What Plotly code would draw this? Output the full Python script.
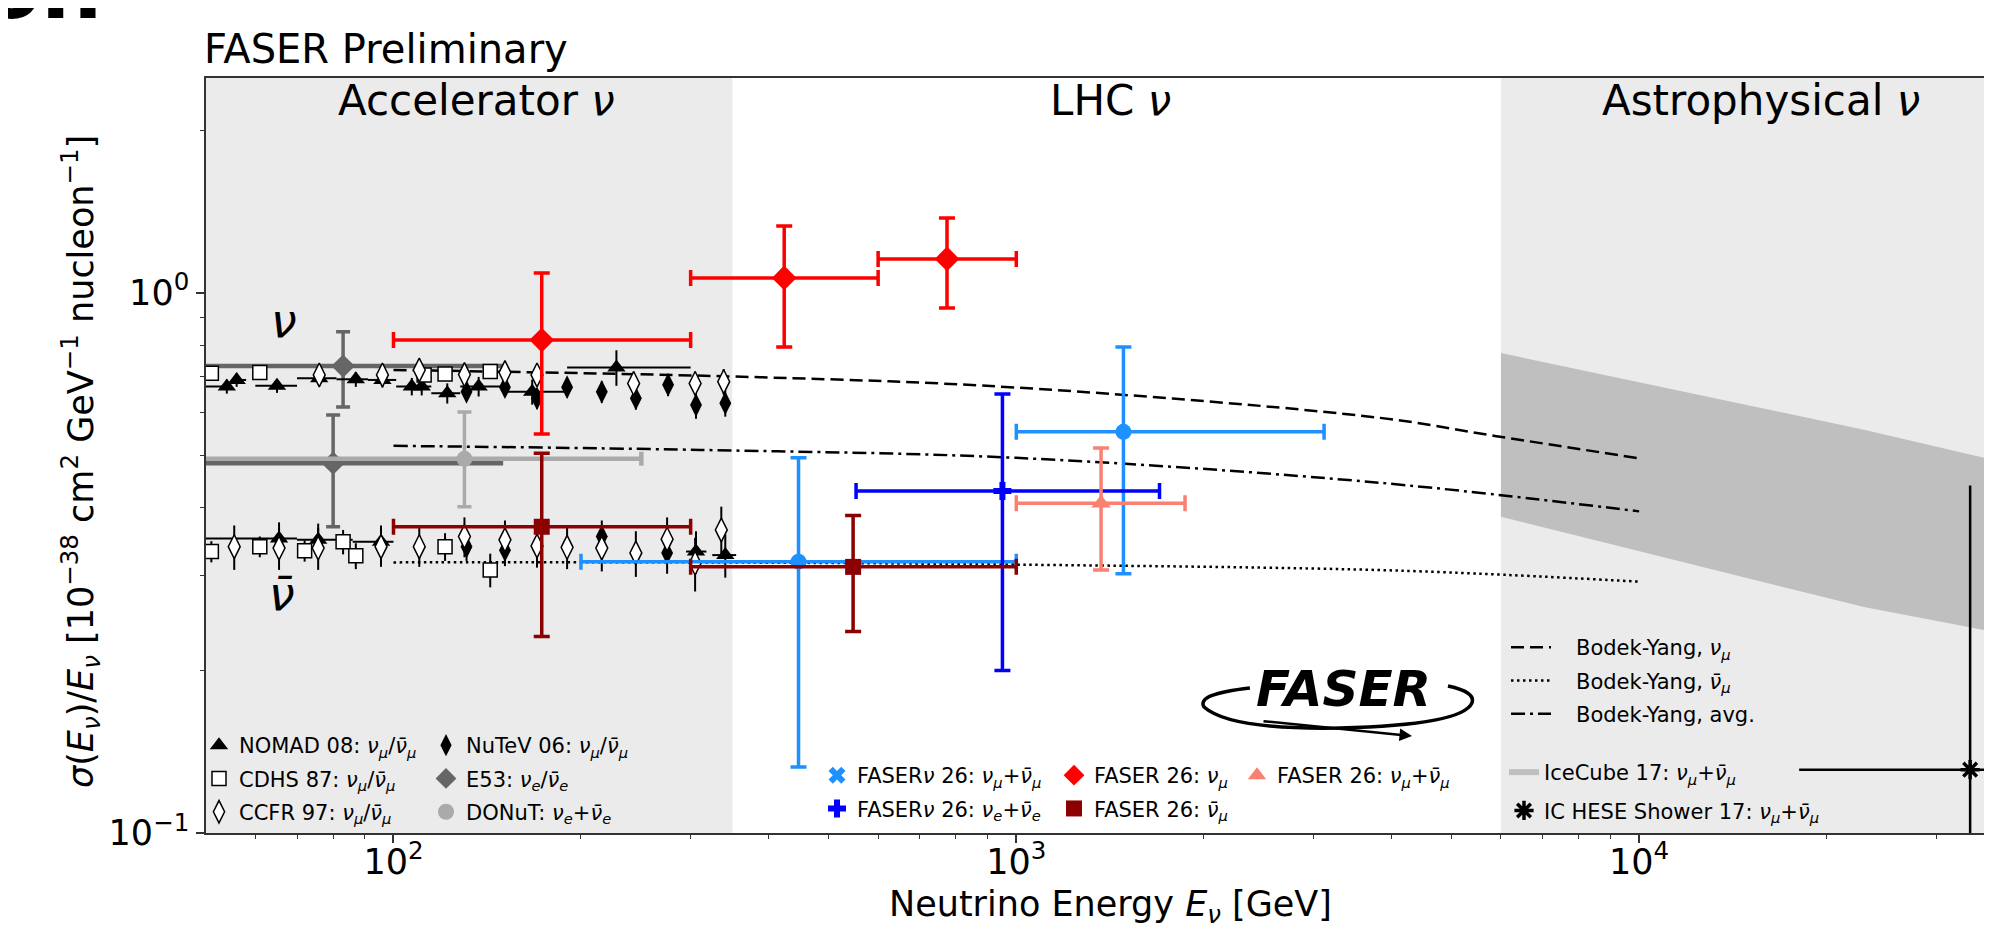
import numpy as np
import plotly.graph_objects as go

# ---------------- data ----------------
# FASER 26: nu_mu (red diamonds)
fa_numu_E = [173, 424, 774]
fa_numu_Elo = [100, 300, 600]
fa_numu_Ehi = [300, 600, 1000]
fa_numu_sig = [0.818, 1.066, 1.156]
fa_numu_hi = [1.089, 1.33, 1.377]
fa_numu_lo = [0.548, 0.794, 0.938]
# FASER 26: nubar_mu (dark red squares)
fa_nubar_E = [173, 547]
fa_nubar_Elo = [100, 300]
fa_nubar_Ehi = [300, 1000]
fa_nubar_sig = [0.369, 0.311]
fa_nubar_hi = [0.505, 0.387]
fa_nubar_lo = [0.231, 0.236]
# FASER 26: nu_mu + nubar_mu (salmon triangle)
fa_sum_E = [1368]
fa_sum_Elo = [1000]
fa_sum_Ehi = [1866]
fa_sum_sig = [0.408]
fa_sum_hi = [0.516]
fa_sum_lo = [0.307]
# FASERnu 26: nu_mu + nubar_mu (light blue)
fnu_mu_E = [447, 1486]
fnu_mu_Elo = [200, 1000]
fnu_mu_Ehi = [1000, 3120]
fnu_mu_sig = [0.318, 0.553]
fnu_mu_hi = [0.495, 0.794]
fnu_mu_lo = [0.1325, 0.302]
# FASERnu 26: nu_e + nubar_e (blue)
fnu_e_E = [950]
fnu_e_Elo = [553]
fnu_e_Ehi = [1698]
fnu_e_sig = [0.43]
fnu_e_hi = [0.65]
fnu_e_lo = [0.20]

# Accelerator data
nomad_nu_E = [54, 56, 65, 76, 87, 96, 107, 111, 122, 137, 167, 228]
nomad_nu_Elo = [50, 55, 60, 70, 81, 91, 101, 109, 115, 128, 150, 190]
nomad_nu_Ehi = [55, 58, 70, 81, 91, 101, 109, 115, 128, 150, 190, 300]
nomad_nu_sig = [0.671, 0.690, 0.673, 0.695, 0.692, 0.690, 0.671, 0.671, 0.652, 0.671, 0.656, 0.728]
nomad_nu_err = [0.020, 0.020, 0.020, 0.022, 0.022, 0.022, 0.025, 0.025, 0.028, 0.028, 0.035, 0.055]
nomad_nub_E = [65.5, 75.7, 95.5, 306, 341]
nomad_nub_Elo = [50, 70, 86, 295, 325]
nomad_nub_Ehi = [70, 86, 100, 318, 355]
nomad_nub_sig = [0.351, 0.349, 0.346, 0.332, 0.327]
nomad_nub_err = [0.025, 0.025, 0.025, 0.03, 0.03]

cdhs_nu_E = [51, 61, 112, 121, 143]
cdhs_nu_sig = [0.710, 0.712, 0.705, 0.708, 0.715]
cdhs_nu_err = [0.018, 0.018, 0.020, 0.020, 0.022]
cdhs_nub_E = [51, 61, 72, 83, 87, 121, 143]
cdhs_nub_sig = [0.332, 0.339, 0.333, 0.346, 0.326, 0.339, 0.307]
cdhs_nub_err = [0.015, 0.015, 0.015, 0.018, 0.018, 0.020, 0.022]

ccfr_nu_E = [76, 96, 110, 130, 151, 170, 243, 305, 339]
ccfr_nu_sig = [0.705, 0.705, 0.720, 0.706, 0.712, 0.705, 0.680, 0.680, 0.685]
ccfr_nu_err = [0.030, 0.030, 0.030, 0.030, 0.030, 0.032, 0.035, 0.035, 0.038]
ccfr_nub_E = [55.5, 65.5, 75.7, 95.5, 110, 130, 151, 170, 190, 216, 245, 275, 305, 336]
ccfr_nub_sig = [0.339, 0.337, 0.337, 0.339, 0.339, 0.354, 0.349, 0.340, 0.338, 0.337, 0.330, 0.350, 0.316, 0.364]
ccfr_nub_err = [0.032, 0.030, 0.030, 0.028, 0.028, 0.030, 0.030, 0.030, 0.030, 0.032, 0.032, 0.034, 0.036, 0.038]

nutev_nu_E = [131, 151, 170, 190, 216, 245, 276, 306, 341]
nutev_nu_sig = [0.656, 0.669, 0.638, 0.669, 0.656, 0.638, 0.676, 0.620, 0.625]
nutev_nu_err = [0.025, 0.025, 0.028, 0.028, 0.030, 0.030, 0.032, 0.035, 0.035]
nutev_nub_E = [131, 151, 216, 275]
nutev_nub_sig = [0.339, 0.334, 0.354, 0.330]
nutev_nub_err = [0.020, 0.022, 0.025, 0.028]

e53_E = [83, 80]
e53_Elo = [30, 30]
e53_Ehi = [151, 150]
e53_sig = [0.732, 0.484]
e53_hi = [0.847, 0.594]
e53_lo = [0.615, 0.369]

donut_E = [130]
donut_Elo = [30]
donut_Ehi = [250]
donut_sig = [0.493]
donut_hi = [0.602]
donut_lo = [0.402]

# Bodek-Yang curves
by_numu_E = [100, 388, 1000, 3840, 5900, 10000]
by_numu_sig = [0.720, 0.698, 0.668, 0.587, 0.543, 0.494]
by_nubar_E = [100, 311, 1000, 4130, 10000]
by_nubar_sig = [0.317, 0.317, 0.314, 0.306, 0.292]
by_avg_E = [100, 311, 1000, 3840, 10000]
by_avg_sig = [0.521, 0.512, 0.495, 0.445, 0.394]

# IceCube 17 band
ic_E = [6000, 22960, 36900]
ic_upper = [0.774, 0.558, 0.491]
ic_lower = [0.385, 0.262, 0.236]

# IC HESE shower 17
hese_E = [34000]
hese_Elo = [18070]
hese_Ehi = [80000]
hese_sig = [0.131]
hese_hi = [0.44]
hese_lo = [0.05]

# region boundaries [GeV]
acc_edge = 350
astro_edge = 6000

# ---------------- geometry ----------------
# the page body has an 8px default margin: the figure is placed at (8, 8)
OFF = 8
W, H = 1992 - OFF, 934 - OFF
PLOT_L, PLOT_R, PLOT_T, PLOT_B = 206, 1992, 78, 833      # plot area in page pixels
L, T = PLOT_L - OFF, PLOT_T - OFF
R = W - (PLOT_R - OFF)
B = H - (PLOT_B - OFF)
PW, PH = PLOT_R - PLOT_L, PLOT_B - PLOT_T
XLO, XHI = np.log10(50), 4.5666
YLO, YHI = -1.0, np.log10(2.5)


def px(x):
    return (x - PLOT_L) / PW


def py(y):
    return (PLOT_B - y) / PH


def ex(E):
    return (np.log10(E) - XLO) / (XHI - XLO)


FONT = "DejaVu Sans"
SP = "\u00a0\u00a0\u00a0"


def errs(v, lo, hi):
    return dict(type="data", symmetric=False,
                array=[h - c for c, h in zip(v, hi)],
                arrayminus=[c - l for c, l in zip(v, lo)])


fig = go.Figure()

# IceCube band
fig.add_trace(go.Scatter(
    x=ic_E + ic_E[::-1], y=ic_upper + ic_lower[::-1],
    fill="toself", fillcolor="#bfbfbf", mode="none",
    name="IceCube 17: <i>ν</i><sub><i>μ</i></sub>+<i>ν̄</i><sub><i>μ</i></sub>",
    legend="legend7", legendgroup="ic"))

# Bodek-Yang curves
fig.add_trace(go.Scatter(x=by_numu_E, y=by_numu_sig, mode="lines",
                         line=dict(color="black", width=2.5, dash="13px,6px", shape="spline"),
                         name=SP + "Bodek-Yang, <i>ν</i><sub><i>μ</i></sub>", legend="legend6",
                         legendgroup="by1"))
fig.add_trace(go.Scatter(x=by_nubar_E, y=by_nubar_sig, mode="lines",
                         line=dict(color="black", width=2.5, dash="2.5px,3.5px", shape="spline"),
                         name=SP + "Bodek-Yang, <i>ν̄</i><sub><i>μ</i></sub>", legend="legend6",
                         legendgroup="by2"))
fig.add_trace(go.Scatter(x=by_avg_E, y=by_avg_sig, mode="lines",
                         line=dict(color="black", width=2.5, dash="14px,5px,3px,5px", shape="spline"),
                         name=SP + "Bodek-Yang, avg.", legend="legend6", legendgroup="by3"))

# grey E53 / DONuT
fig.add_trace(go.Scatter(
    x=e53_E, y=e53_sig, mode="markers",
    marker=dict(symbol="diamond", size=18, color="#666666"),
    error_x=dict(errs(e53_E, e53_Elo, e53_Ehi), color="#666666", thickness=4.5, width=0),
    error_y=dict(errs(e53_sig, e53_lo, e53_hi), color="#666666", thickness=3.5, width=7),
    name="E53: <i>ν</i><sub><i>e</i></sub>/<i>ν̄</i><sub><i>e</i></sub>", legend="legend2",
    legendgroup="e53", legendrank=2))
fig.add_trace(go.Scatter(
    x=donut_E, y=donut_sig, mode="markers",
    marker=dict(symbol="circle", size=16, color="#aaaaaa"),
    error_x=dict(errs(donut_E, donut_Elo, donut_Ehi), color="#aaaaaa", thickness=4.5, width=7),
    error_y=dict(errs(donut_sig, donut_lo, donut_hi), color="#aaaaaa", thickness=3.5, width=7),
    name="DONuT: <i>ν</i><sub><i>e</i></sub>+<i>ν̄</i><sub><i>e</i></sub>", legend="legend2",
    legendgroup="donut", legendrank=3))

blk = dict(color="black", thickness=2, width=0)
mu_lab = ": <i>ν</i><sub><i>μ</i></sub>/<i>ν̄</i><sub><i>μ</i></sub>"

# NOMAD
fig.add_trace(go.Scatter(
    x=nomad_nu_E, y=nomad_nu_sig, mode="markers",
    marker=dict(symbol="triangle-up", size=16, color="black"),
    error_x=dict(errs(nomad_nu_E, nomad_nu_Elo, nomad_nu_Ehi), **blk),
    error_y=dict(type="data", array=nomad_nu_err, **blk),
    name="NOMAD 08" + mu_lab, legend="legend", legendgroup="nomad", legendrank=1))
fig.add_trace(go.Scatter(
    x=nomad_nub_E, y=nomad_nub_sig, mode="markers",
    marker=dict(symbol="triangle-up", size=16, color="black"),
    error_x=dict(errs(nomad_nub_E, nomad_nub_Elo, nomad_nub_Ehi), **blk),
    error_y=dict(type="data", array=nomad_nub_err, **blk),
    showlegend=False, legend="legend", legendgroup="nomad"))
# NuTeV
fig.add_trace(go.Scatter(
    x=nutev_nu_E, y=nutev_nu_sig, mode="markers",
    marker=dict(symbol="diamond-tall", size=17, color="black"),
    error_y=dict(type="data", array=nutev_nu_err, **blk),
    name="NuTeV 06" + mu_lab, legend="legend2", legendgroup="nutev", legendrank=1))
fig.add_trace(go.Scatter(
    x=nutev_nub_E, y=nutev_nub_sig, mode="markers",
    marker=dict(symbol="diamond-tall", size=17, color="black"),
    error_y=dict(type="data", array=nutev_nub_err, **blk),
    showlegend=False, legend="legend2", legendgroup="nutev"))
# CDHS
fig.add_trace(go.Scatter(
    x=cdhs_nu_E, y=cdhs_nu_sig, mode="markers",
    marker=dict(symbol="square", size=14, color="white", line=dict(color="black", width=1.5)),
    error_y=dict(type="data", array=cdhs_nu_err, **blk),
    name="CDHS 87" + mu_lab, legend="legend", legendgroup="cdhs", legendrank=2))
fig.add_trace(go.Scatter(
    x=cdhs_nub_E, y=cdhs_nub_sig, mode="markers",
    marker=dict(symbol="square", size=14, color="white", line=dict(color="black", width=1.5)),
    error_y=dict(type="data", array=cdhs_nub_err, **blk),
    showlegend=False, legend="legend", legendgroup="cdhs"))
# CCFR
fig.add_trace(go.Scatter(
    x=ccfr_nu_E, y=ccfr_nu_sig, mode="markers",
    marker=dict(symbol="diamond-tall", size=17, color="white", line=dict(color="black", width=1.5)),
    error_y=dict(type="data", array=ccfr_nu_err, **blk),
    name="CCFR 97" + mu_lab, legend="legend", legendgroup="ccfr", legendrank=3))
fig.add_trace(go.Scatter(
    x=ccfr_nub_E, y=ccfr_nub_sig, mode="markers",
    marker=dict(symbol="diamond-tall", size=17, color="white", line=dict(color="black", width=1.5)),
    error_y=dict(type="data", array=ccfr_nub_err, **blk),
    showlegend=False, legend="legend", legendgroup="ccfr"))


def faser_trace(E, Elo, Ehi, s, lo, hi, color, symbol, size, name, legend, group, show=True):
    return go.Scatter(
        x=E, y=s, mode="markers",
        marker=dict(symbol=symbol, size=size, color=color),
        error_x=dict(errs(E, Elo, Ehi), color=color, thickness=3.5, width=8),
        error_y=dict(errs(s, lo, hi), color=color, thickness=3.5, width=8),
        name=name, legend=legend, legendgroup=group, showlegend=show)


fnumu_name = "FASER<i>ν</i> 26: <i>ν</i><sub><i>μ</i></sub>+<i>ν̄</i><sub><i>μ</i></sub>"
fig.add_trace(faser_trace(fnu_mu_E, fnu_mu_Elo, fnu_mu_Ehi, fnu_mu_sig, fnu_mu_lo, fnu_mu_hi,
                          "#1e90ff", "circle", 16, fnumu_name, "legend3", "fnumu", show=False))
# legend entry (X symbol) for the light-blue series
fig.add_trace(go.Scatter(x=[None], y=[None], mode="markers",
                         marker=dict(symbol="x", size=15, color="#1e90ff"),
                         name=fnumu_name, legend="legend3", legendgroup="fnumu", legendrank=1))
fig.add_trace(faser_trace(fnu_e_E, fnu_e_Elo, fnu_e_Ehi, fnu_e_sig, fnu_e_lo, fnu_e_hi,
                          "#0000ff", "cross", 15,
                          "FASER<i>ν</i> 26: <i>ν</i><sub><i>e</i></sub>+<i>ν̄</i><sub><i>e</i></sub>",
                          "legend3", "fnue"))
fig.add_trace(faser_trace(fa_numu_E, fa_numu_Elo, fa_numu_Ehi, fa_numu_sig, fa_numu_lo, fa_numu_hi,
                          "#ff0000", "diamond", 19,
                          "FASER 26: <i>ν</i><sub><i>μ</i></sub>", "legend4", "fanumu"))
fig.add_trace(faser_trace(fa_nubar_E, fa_nubar_Elo, fa_nubar_Ehi, fa_nubar_sig, fa_nubar_lo, fa_nubar_hi,
                          "#8b0000", "square", 16,
                          "FASER 26: <i>ν̄</i><sub><i>μ</i></sub>", "legend4", "fanubar"))
fig.add_trace(faser_trace(fa_sum_E, fa_sum_Elo, fa_sum_Ehi, fa_sum_sig, fa_sum_lo, fa_sum_hi,
                          "#fa8072", "triangle-up", 17,
                          "FASER 26: <i>ν</i><sub><i>μ</i></sub>+<i>ν̄</i><sub><i>μ</i></sub>",
                          "legend5", "fasum"))

# IC HESE shower
fig.add_trace(go.Scatter(
    x=hese_E, y=hese_sig, mode="markers",
    marker=dict(symbol="asterisk-open", size=16, color="black", line=dict(color="black", width=3.5)),
    error_x=dict(errs(hese_E, hese_Elo, hese_Ehi), color="black", thickness=2.5, width=0),
    error_y=dict(errs(hese_sig, hese_lo, hese_hi), color="black", thickness=2.5, width=0),
    name="IC HESE Shower 17: <i>ν</i><sub><i>μ</i></sub>+<i>ν̄</i><sub><i>μ</i></sub>",
    legend="legend7", legendgroup="hese"))

# ---------------- layout ----------------
shapes = [
    dict(type="rect", xref="paper", yref="paper", x0=0, x1=ex(acc_edge), y0=0, y1=1,
         fillcolor="#ebebeb", line=dict(width=0), layer="below"),
    dict(type="rect", xref="paper", yref="paper", x0=ex(astro_edge), x1=1, y0=0, y1=1,
         fillcolor="#ebebeb", line=dict(width=0), layer="below"),
    # FASER logo swoosh
    dict(type="path", xref="paper", yref="paper",
         path=("M {:.4f},{:.4f} Q {:.4f},{:.4f} {:.4f},{:.4f} Q {:.4f},{:.4f} {:.4f},{:.4f} "
               "Q {:.4f},{:.4f} {:.4f},{:.4f} Q {:.4f},{:.4f} {:.4f},{:.4f}").format(
             px(1250), py(688), px(1196), py(694), px(1204), py(707),
             px(1230), py(730), px(1340), py(728),
             px(1462), py(725), px(1472), py(703),
             px(1476), py(692), px(1448), py(686)),
         line=dict(color="black", width=3.5)),
]

ann = []


def text(x, y, s, size, xanchor="center", yanchor="middle", angle=0, color="black"):
    ann.append(dict(x=px(x), y=py(y), xref="paper", yref="paper", text=s, showarrow=False,
                    xanchor=xanchor, yanchor=yanchor, textangle=angle,
                    font=dict(family=FONT, size=size, color=color)))


text(202, 49, "FASER Preliminary", 40, xanchor="left")
text(476, 100, "Accelerator <i>ν</i>", 42)
text(1110, 100, "LHC <i>ν</i>", 42)
text(1761, 100, "Astrophysical <i>ν</i>", 42)
text(284, 321, "<i>ν</i>", 46)
text(282, 594, "<i>ν̄</i>", 46)
text(1110, 906, "Neutrino Energy <i>E<sub>ν</sub></i> [GeV]", 35)
text(80, 462, "<i>σ</i>(<i>E<sub>ν</sub></i>)/<i>E<sub>ν</sub></i> [10<sup>−38</sup> cm<sup>2</sup> GeV<sup>−1</sup> nucleon<sup>−1</sup>]",
     35, angle=-90)
text(1343, 689, "<b><i>FASER</i></b>", 50)
text(-20, 40, "<b>on</b>", 86, xanchor="left", yanchor="bottom")
ann.append(dict(x=px(1412), y=py(736), xref="paper", yref="paper", text="", showarrow=True,
                ax=-150, ay=-15, arrowhead=2, arrowsize=1, arrowwidth=2.5, arrowcolor="black"))


def leg(x, y, width=30, gap=3):
    return dict(x=px(x), y=py(y), xanchor="left", yanchor="top", bgcolor="rgba(0,0,0,0)",
                borderwidth=0, font=dict(family=FONT, size=21, color="black"),
                itemwidth=width, tracegroupgap=gap, traceorder="grouped")


axis_common = dict(showline=True, linecolor="#333333", linewidth=1.5, ticks="outside",
                   tickcolor="#333333", tickwidth=1.5, ticklen=8, showgrid=False, zeroline=False,
                   tickfont=dict(family=FONT, size=35, color="black"))

x_major = [100, 1000, 10000]
x_major_text = ["10<sup>2</sup>", "10<sup>3</sup>", "10<sup>4</sup>"]
x_minor = [60, 70, 80, 90, 200, 300, 400, 500, 600, 700, 800, 900,
           2000, 3000, 4000, 5000, 6000, 7000, 8000, 9000, 20000, 30000]
y_major = [0.1, 1]
y_major_text = ["10<sup>−1</sup>", "10<sup>0</sup>"]
y_minor = [0.2, 0.3, 0.4, 0.5, 0.6, 0.7, 0.8, 0.9, 2]

fig.update_layout(
    width=W, height=H, margin=dict(l=L, r=R, t=T, b=B, autoexpand=False),
    paper_bgcolor="white", plot_bgcolor="white",
    font=dict(family=FONT, color="black"),
    xaxis=dict(type="log", range=[XLO, XHI], mirror=True, tickmode="array",
               tickvals=x_major, ticktext=x_major_text, ticklabelstandoff=-11,
               minor=dict(ticks="outside", ticklen=4.5, tickwidth=1.2, tickcolor="#333333",
                          tickmode="array", tickvals=x_minor),
               **axis_common),
    yaxis=dict(type="log", range=[YLO, YHI], tickmode="array",
               tickvals=y_major, ticktext=y_major_text,
               minor=dict(ticks="outside", ticklen=4.5, tickwidth=1.2, tickcolor="#333333",
                          tickmode="array", tickvals=y_minor),
               **axis_common),
    shapes=shapes, annotations=ann,
    legend=leg(199, 725),
    legend2=leg(426, 725),
    legend3=leg(817, 755),
    legend4=leg(1054, 755),
    legend5=leg(1237, 755),
    legend6=leg(1506, 627, width=40, gap=3),
    legend7=leg(1504, 752, gap=8),
)

fig.write_html("out.html")
